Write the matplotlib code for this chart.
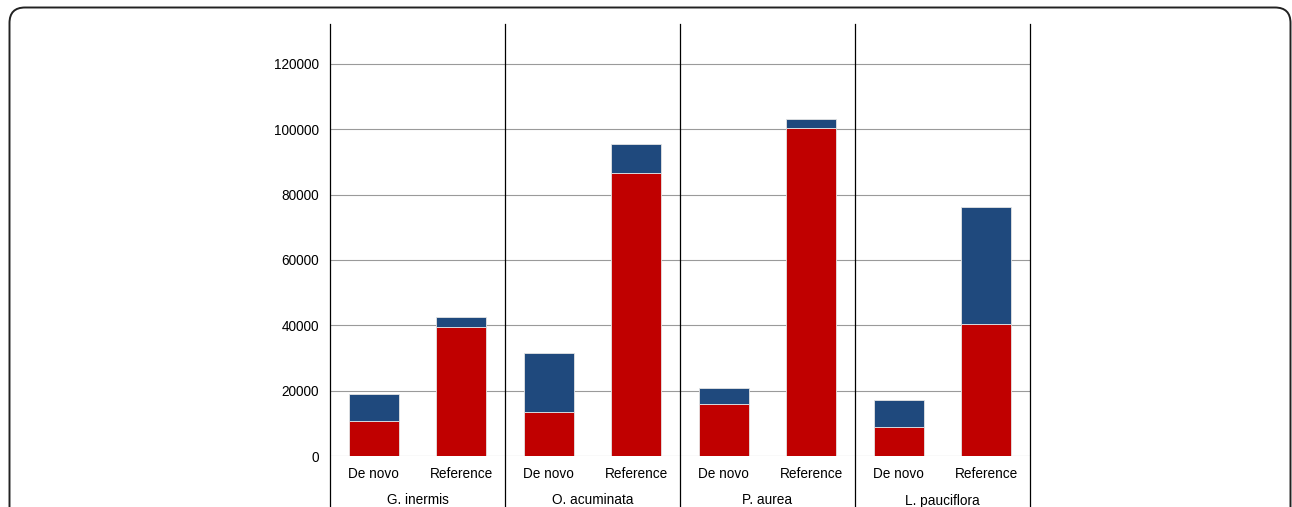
import matplotlib
matplotlib.use("Agg")
import matplotlib.pyplot as plt
from matplotlib.patches import FancyBboxPatch
import numpy as np

groups = ['G. inermis', 'O. acuminata', 'P. aurea', 'L. pauciflora']
categories = ['De novo', 'Reference']
series_lower = [10800, 39400, 13400, 86700, 16000, 100300, 9000, 40300]
series_upper = [8250, 3200, 18000, 8800, 4900, 2800, 8050, 35800]
yticks = [0, 20000, 40000, 60000, 80000, 100000, 120000]

RED = '#C00000'
BLUE = '#1F497D'

plt.rcParams['font.family'] = ['Liberation Sans', 'DejaVu Sans']

W, H = 1292, 507
fig = plt.figure(figsize=(W / 100, H / 100), dpi=100)
ax = fig.add_axes([330 / W, (H - 456) / H, 700 / W, 432 / H])

x = np.arange(len(series_lower))
ax.bar(x, series_lower, width=0.57, color=RED, edgecolor='#e4e4e4', linewidth=0.6, zorder=3)
ax.bar(x, series_upper, bottom=series_lower, width=0.57, color=BLUE,
       edgecolor='#e4e4e4', linewidth=0.6, zorder=3)

ax.set_xlim(-0.5, len(x) - 0.5)
ax.set_ylim(0, 132240)
ax.set_yticks(yticks)
ax.set_yticklabels([str(v) for v in yticks], fontsize=9.8)
ax.tick_params(axis='y', length=0, pad=8)
ax.set_xticks([])
ax.grid(axis='y', color='#9a9a9a', linewidth=0.8, zorder=1)
for s in ax.spines.values():
    s.set_visible(False)

# group separators
for b in np.arange(-0.5, len(x), 2):
    ax.axvline(b, ymin=-0.2, ymax=1, color='black', linewidth=0.9, clip_on=False, zorder=4)

# category labels
labels = [c for _ in groups for c in categories]
for xi, lab in zip(x, labels):
    ax.annotate(lab, xy=(xi, 0), xycoords=('data', 'axes fraction'),
                xytext=(0, -18 * 0.72), textcoords='offset points',
                ha='center', va='center', fontsize=9.8)
for gi, g in enumerate(groups):
    ax.annotate(g, xy=(2 * gi + 0.5, 0), xycoords=('data', 'axes fraction'),
                xytext=(0, -44.5 * 0.72), textcoords='offset points',
                ha='center', va='center', fontsize=9.8)

# rounded frame
frame = FancyBboxPatch((9.5 / W, -30 / H), (1290.5 - 9.5) / W, (H - 7.5 + 30) / H,
                       boxstyle='round,pad=0,rounding_size=0.012',
                       transform=fig.transFigure, facecolor='none',
                       edgecolor='#222222', linewidth=1.4, mutation_aspect=W / H)
fig.patches.append(frame)

fig.savefig('out.png', dpi=100)
